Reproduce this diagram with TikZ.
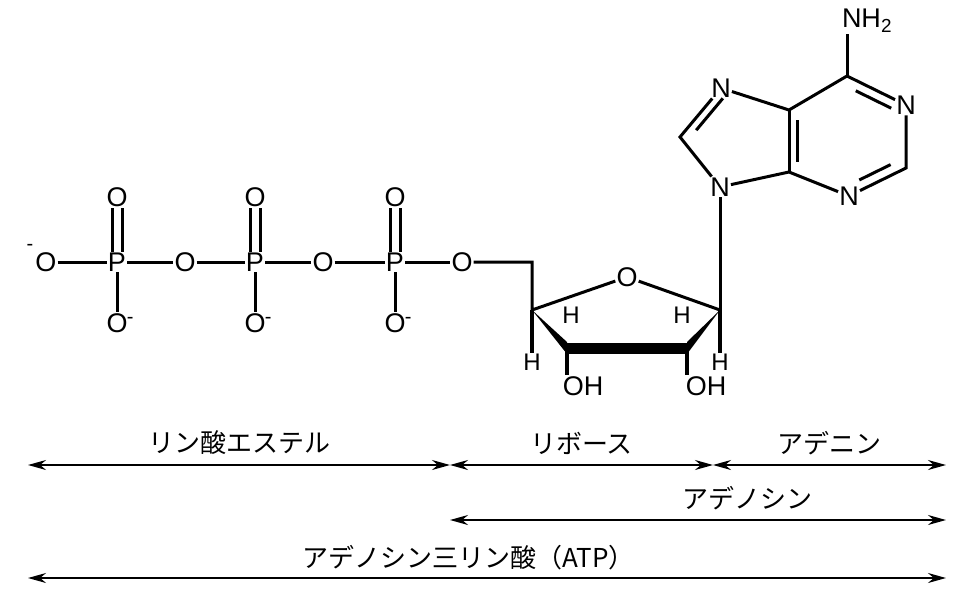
\documentclass[tikz,border=0pt]{standalone}
\usepackage{fontspec}
\setmainfont{Liberation Sans}
\newfontfamily\jp{Noto Sans CJK JP}
\usetikzlibrary{arrows.meta,calc}

\tikzset{
  atom/.style={inner sep=1pt, font=\fontsize{27}{27}\selectfont},
  hatom/.style={inner sep=1pt, font=\fontsize{24}{24}\selectfont},
  bond/.style={line width=3pt},
  span/.style={{Stealth[length=18pt,width=10pt]}-{Stealth[length=18pt,width=10pt]}, line width=1.6pt},
  tag/.style={font=\jp\fontsize{26}{26}\selectfont}
}

\begin{document}
\begin{tikzpicture}[x=1pt, y=-1pt]
  \useasboundingbox (0,0) rectangle (980,600);

  % phosphate chain
  \node[atom] (Om) at (46,262) {O};
  \node[inner sep=0pt, font=\fontsize{20}{20}\selectfont] (mi) at (30,247) {-};
  \foreach \n/\x in {1/117, 2/255, 3/395} {
    \node[atom] (P\n) at (\x,262) {P};
    \node[atom] (Ot\n) at (\x,197) {O};
    \node[atom] (Ob\n) at (\x,323) {O};
    \node[anchor=west, inner sep=0pt, font=\fontsize{20}{20}\selectfont] at ([xshift=-2pt, yshift=-8pt]Ob\n.north east) {-};
    \draw[bond] ([xshift=-5pt]P\n.north) -- ([xshift=-5pt]Ot\n.south);
    \draw[bond] ([xshift=5pt]P\n.north) -- ([xshift=5pt]Ot\n.south);
    \draw[bond] (P\n) -- (Ob\n);
  }
  \node[atom] (O12) at (185,262) {O};
  \node[atom] (O23) at (323,262) {O};
  \node[atom] (O5)  at (462,262) {O};
  \draw[bond] (Om) -- (P1) -- (O12) -- (P2) -- (O23) -- (P3) -- (O5);

  % ribose
  \coordinate (C5r) at (532,262);
  \coordinate (C4r) at (532,310);
  \coordinate (C3r) at (567,348);
  \coordinate (C2r) at (687,348);
  \coordinate (C1r) at (720,310);
  \node[atom] (Or) at (627,277) {O};
  \draw[bond] (O5) -- (C5r) -- (C4r) -- (Or) -- (C1r);
  \fill (C4r) -- ([yshift=-6pt]C3r) -- ([yshift=6pt]C3r) -- cycle;
  \fill (C1r) -- ([yshift=-6pt]C2r) -- ([yshift=6pt]C2r) -- cycle;
  \draw[line width=11pt] (C3r) -- (C2r);
  \node[hatom] (H4a) at (571,315) {H};
  \node[hatom] (H1a) at (682,315) {H};
  \node[hatom] (H4b) at (532,362) {H};
  \node[hatom] (H1b) at (720,362) {H};
  \node[atom] (OH3) at (583,386) {OH};
  \node[atom] (OH2) at (706,386) {OH};
  \draw[bond, line width=4pt] (C4r) -- (H4b);
  \draw[bond, line width=4pt] (C1r) -- (H1b);
  \draw[bond, line width=4pt] (C3r) -- (C3r |- OH3.north);
  \draw[bond, line width=4pt] (C2r) -- (C2r |- OH2.north);

  % adenine
  \node[atom] (N9) at (720,187) {N};
  \node[atom] (N7) at (721,88) {N};
  \node[atom] (N1) at (906,105) {N};
  \node[atom] (N3) at (849,196) {N};
  \node[atom] (NH) at (867,21) {NH\textsubscript{2}};
  \coordinate (C8) at (680,137);
  \coordinate (C5) at (789,110);
  \coordinate (C4) at (789,172);
  \coordinate (C6) at (847,76);
  \coordinate (C2) at (906,168);
  \draw[bond] (C1r) -- (N9);
  \draw[bond] (N9) -- (C8) -- (N7) -- (C5) -- (C6) -- (N1) -- (C2) -- (N3) -- (C4) -- (N9);
  \draw[bond] (C5) -- (C4);
  \draw[bond] (C6) -- (C6 |- NH.south);
  \draw[bond] ($(C8)!0.2!(N7)+(8,3)$) -- ($(C8)!0.85!(N7)+(8,3)$);
  \draw[bond] ($(C5)+(8,10)$) -- ($(C4)+(8,-10)$);
  \draw[bond] ($(C6)!0.2!(N1)+(-3,9)$) -- ($(C6)!0.8!(N1)+(-3,9)$);
  \draw[bond] ($(C2)!0.2!(N3)+(-4,-9)$) -- ($(C2)!0.75!(N3)+(-4,-9)$);

  % spans
  \coordinate (xl) at (28,465);
  \coordinate (xm) at (450,465);
  \coordinate (xr) at (713,465);
  \coordinate (xe) at (946,465);
  \draw[span] (xl) -- (xm) node[tag, midway, above=6pt] {リン酸エステル};
  \draw[span] (xm) -- (xr) node[tag, midway, above=6pt] {リボース};
  \draw[span] (xr) -- (xe) node[tag, midway, above=6pt] {アデニン};
  \coordinate (ad1) at (450,520);
  \coordinate (ad2) at (946,520);
  \draw[span] (ad1) -- (ad2) node[tag, pos=0.6, above=6pt] {アデノシン};
  \coordinate (atp1) at (28,578);
  \coordinate (atp2) at (946,578);
  \draw[span] (atp1) -- (atp2) node[tag, pos=0.48, above=4pt] {アデノシン三リン酸（ATP）};
\end{tikzpicture}
\end{document}
